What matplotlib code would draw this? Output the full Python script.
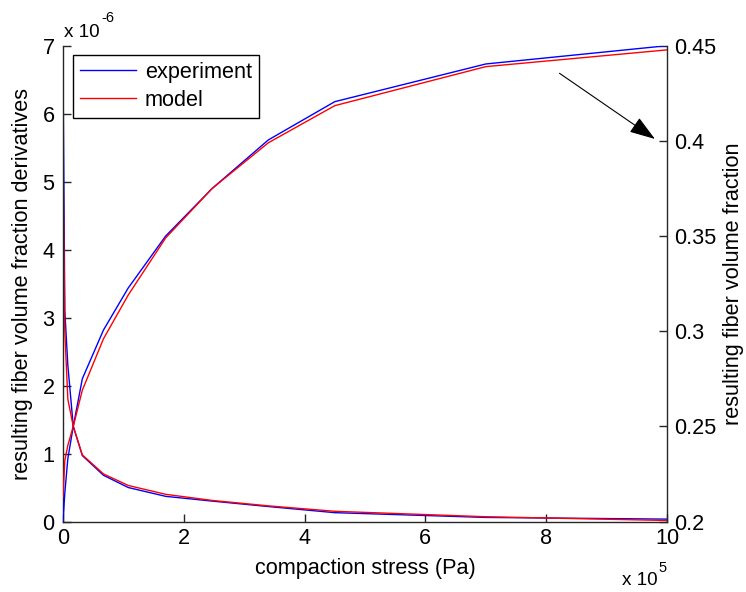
import matplotlib
matplotlib.use("Agg")
import matplotlib.pyplot as plt

plt.rcParams['font.family'] = ['Liberation Sans', 'DejaVu Sans']

# compaction stress, in units of 1e5 Pa
stress = [0, 0.03, 0.08, 0.17, 0.32, 0.67, 1.08, 1.7, 2.47, 3.4, 4.5, 7.0, 10.0]

# fiber volume fraction derivatives, in units of 1e-6
deriv_exp = [6.7, 3.1, 2.3, 1.4, 0.97, 0.68, 0.50, 0.37, 0.30, 0.22, 0.13, 0.06, 0.035]
deriv_model = [5.4, 2.8, 1.8, 1.4, 0.98, 0.70, 0.53, 0.40, 0.31, 0.23, 0.15, 0.07, 0.015]

# resulting fiber volume fraction
frac_exp = [0.200, 0.215, 0.233, 0.250, 0.275, 0.3006, 0.3227, 0.350, 0.375, 0.4005, 0.4206, 0.4404, 0.450]
frac_model = [0.213, 0.232, 0.240, 0.250, 0.269, 0.296, 0.319, 0.349, 0.375, 0.399, 0.4185, 0.439, 0.4478]

left_ticks = [0, 1, 2, 3, 4, 5, 6, 7]
right_ticks = [0.2, 0.25, 0.3, 0.35, 0.4, 0.45]
right_labels = ['0.2', '0.25', '0.3', '0.35', '0.4', '0.45']
x_ticks = [0, 2, 4, 6, 8, 10]

FS = 15.6
MULT = 13.6
SUP = 10.5
W, H = 746, 592
fig = plt.figure(figsize=(W / 100, H / 100), dpi=100)
ax = fig.add_axes([63 / W, 1 - 521.5 / H, 604 / W, 475.8 / H])
ax2 = ax.twinx()

spine_col = '0.15'

l1, = ax.plot(stress, deriv_exp, color='#0000ff', lw=1.0, label='experiment')
l2, = ax.plot(stress, deriv_model, color='#ff0000', lw=1.0, label='model')
ax2.plot(stress, frac_exp, color='#0000ff', lw=1.0)
ax2.plot(stress, frac_model, color='#ff0000', lw=1.0)

ax.set_xlim(0, 10)
ax.set_ylim(0, 7)
ax2.set_ylim(0.2, 0.45)
ax.set_xticks(x_ticks)
ax.set_xticklabels([str(t) for t in x_ticks])
ax.set_yticks(left_ticks)
ax.set_yticklabels([str(t) for t in left_ticks])
ax2.set_yticks(right_ticks)
ax2.set_yticklabels(right_labels)

for a in (ax, ax2):
    a.spines['top'].set_visible(False)
    for s in a.spines.values():
        s.set_color(spine_col)
        s.set_linewidth(1.0)
ax.spines['right'].set_visible(False)
ax2.spines['left'].set_visible(False)
ax2.spines['bottom'].set_visible(False)

ax.tick_params(axis='both', direction='in', length=6, width=1, color=spine_col,
               labelsize=FS, pad=6)
ax.tick_params(axis='x', pad=5)
ax2.tick_params(axis='y', direction='in', length=6, width=1, color=spine_col,
                labelsize=FS, pad=5)

ax.set_xlabel('compaction stress (Pa)', fontsize=FS, labelpad=6)
ax.set_ylabel('resulting fiber volume fraction derivatives', fontsize=FS, labelpad=7)
ax2.set_ylabel('resulting fiber volume fraction', fontsize=FS, labelpad=5)

# axis multipliers, drawn with a plain hyphen in the exponent
fig.text(64 / W, 1 - 37 / H, 'x 10', fontsize=MULT, ha='left', va='baseline')
fig.text(101 / W, 1 - 22 / H, '-6', fontsize=SUP, ha='left', va='baseline')
fig.text(622 / W, 1 - 585 / H, 'x 10', fontsize=MULT, ha='left', va='baseline')
fig.text(658 / W, 1 - 572 / H, '5', fontsize=SUP, ha='left', va='baseline')

leg = ax.legend(handles=[l1, l2], loc='upper left',
                bbox_to_anchor=(10 / 604, 1 - 9.3 / 475.8),
                borderaxespad=0, fancybox=False, fontsize=FS,
                handlelength=2.6, handletextpad=0.4, labelspacing=0.32,
                borderpad=0.32)
leg.get_frame().set_edgecolor('black')
leg.get_frame().set_linewidth(1.0)
leg.get_frame().set_alpha(1)

ax2.annotate('', xy=(9.80, 0.401), xytext=(8.22, 0.4355),
             arrowprops=dict(arrowstyle='-|>,head_length=0.8,head_width=0.27',
                             color='black', lw=0.8,
                             mutation_scale=20, shrinkA=0, shrinkB=0))

fig.savefig('out.png', dpi=100)
